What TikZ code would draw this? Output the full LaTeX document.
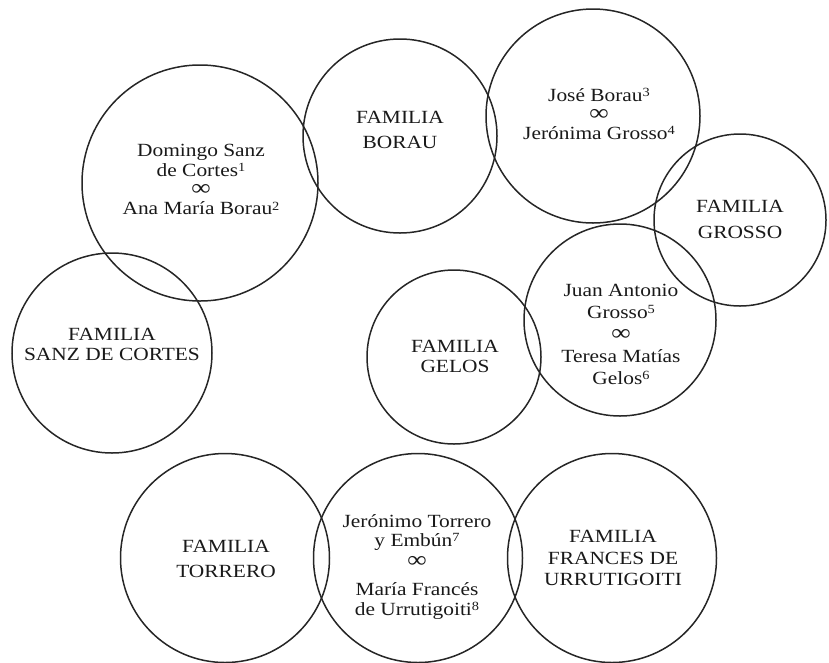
\documentclass[tikz,border=0pt]{standalone}
\usepackage{fontspec}
\setmainfont{Liberation Serif}[FakeStretch=1.15]
% small raised note numbers
\newcommand\fnum[1]{\raisebox{4.5pt}{\fontsize{12.5}{12.5}\selectfont #1}}
% marriage sign
\newcommand\wed{\smash{\fontsize{23}{0}\selectfont\bfseries ∞}}
\begin{document}
\begin{tikzpicture}[x=1pt,y=-1pt,
  ring/.style={circle, draw=black!85, line width=1.5pt, inner sep=0pt, minimum size=#1pt},
  lbl/.style={font=\fontsize{18.6}{#1}\selectfont, align=center, inner sep=0pt, text=black!90}
]
\useasboundingbox (0,0) rectangle (829,662);

% circles
\node[ring=236] (c-sanzborau)   at (200,183) {};
\node[ring=194] (c-borau)       at (400,136) {};
\node[ring=214] (c-borauGrosso) at (593,116) {};
\node[ring=172] (c-grosso)      at (740,220) {};
\node[ring=200] (c-sanz)        at (112,353) {};
\node[ring=174] (c-gelos)       at (454,357) {};
\node[ring=192] (c-grossoGelos) at (620,320) {};
\node[ring=209] (c-torrero)     at (225,558) {};
\node[ring=209] (c-torreroFr)   at (418,558) {};
\node[ring=209] (c-frances)     at (612,558) {};

% labels
\node[lbl=19.3] (t-sanzborau) at (201,179.7)
  {Domingo Sanz\\de Cortes\fnum{1}\\\wed\\Ana María Borau\fnum{2}};
\node[lbl=25] (t-borau) at (400,130.4) {FAMILIA\\BORAU};
\node[lbl=19] (t-borauGrosso) at (599,113.7)
  {José Borau\fnum{3}\\\wed\\Jerónima Grosso\fnum{4}};
\node[lbl=26] (t-grosso) at (740,219.8) {FAMILIA\\GROSSO};
\node[lbl=20] (t-sanz) at (112,344.9) {FAMILIA\\SANZ DE CORTES};
\node[lbl=20] (t-gelos) at (455,356.8) {FAMILIA\\GELOS};
\node[lbl=22] (t-grossoGelos) at (621,334.2)
  {Juan Antonio\\Grosso\fnum{5}\\\wed\\Teresa Matías\\Gelos\fnum{6}};
\node[lbl=25] (t-torrero) at (226,559.4) {FAMILIA\\TORRERO};
\node[lbl=19] (t-torreroFr) at (417,566.7)
  {Jerónimo Torrero\\y Embún\fnum{7}\\[2pt]\wed\\[9pt]María Francés\\[1pt]de Urrutigoiti\fnum{8}};
\node[lbl=21.5] (t-frances) at (613,558.3) {FAMILIA\\FRANCES DE\\URRUTIGOITI};
\end{tikzpicture}
\end{document}
